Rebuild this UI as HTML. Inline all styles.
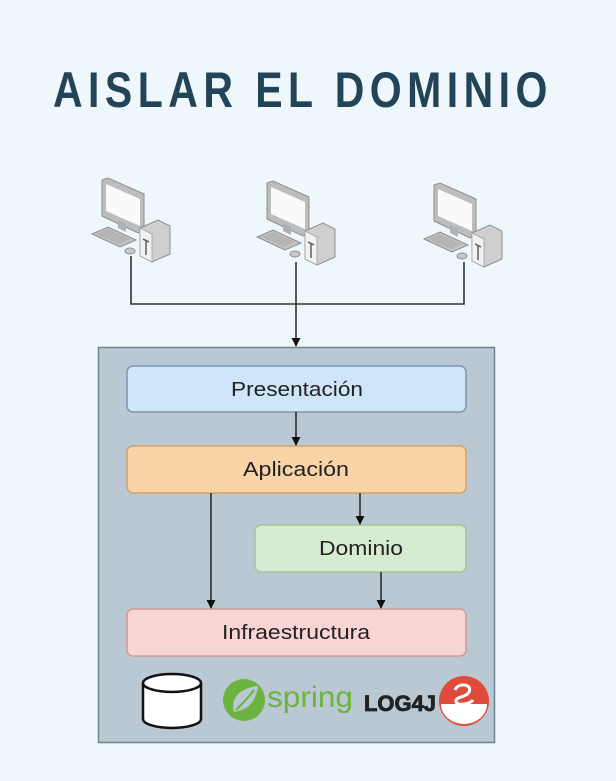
<!DOCTYPE html>
<html><head><meta charset="utf-8"><style>
html,body{margin:0;padding:0;background:#eef7fc;}
svg{display:block}
text{font-family:"Liberation Sans",sans-serif}
</style></head><body>
<svg width="616" height="781" viewBox="0 0 616 781" xmlns="http://www.w3.org/2000/svg">
<defs>
<marker id="ar" viewBox="0 0 10 10" refX="9" refY="5" markerWidth="9" markerHeight="9" orient="auto" markerUnits="userSpaceOnUse">
<path d="M0,0 L10,5 L0,10 z" fill="#111"/></marker>
<g id="pc">
  <polygon points="10,2 16,0 52,16 52,52 46,55 10,38" fill="#bdbdbd" stroke="#8f8f8f" stroke-width="1"/>
  <polygon points="14,6 48,21 48,48 14,33" fill="#fafafa"/>
  <polygon points="26,42 34,46 34,54 26,50" fill="#b0b0b0"/>
  <polygon points="0,56 16,49 44,62 28,69" fill="#c4c4c4" stroke="#8f8f8f" stroke-width="1"/>
  <polygon points="4,56 16,51 38,61 27,66" fill="#b4b4b4"/>
  <ellipse cx="38" cy="73" rx="5" ry="3" fill="#c8c8c8" stroke="#8f8f8f"/>
  <polygon points="48,50 66,42 78,48 78,76 60,84 48,78" fill="#cfcfcf" stroke="#8f8f8f" stroke-width="1"/>
  <polygon points="48,50 60,56 60,84 48,78" fill="#f2f2f2" stroke="#a0a0a0" stroke-width="0.8"/>
  <path d="M51,61 L57,64 M54,62 L54,77" stroke="#666" stroke-width="1.6"/>
</g>
</defs>
<rect width="616" height="781" fill="#eef7fc"/>
<g transform="scale(0.82,1)">
<text x="64.6" y="107" font-size="50" font-weight="bold" fill="#234356" textLength="603" lengthAdjust="spacing">AISLAR EL DOMINIO</text>
</g>

<use href="#pc" x="92" y="178"/>
<use href="#pc" x="257" y="181"/>
<use href="#pc" x="424" y="183"/>

<g stroke="#333" stroke-width="1.6" fill="none">
<path d="M131,256 V304 H464 V262"/>
<path d="M296,262 V346" marker-end="url(#ar)"/>
</g>

<rect x="98.5" y="347.5" width="396" height="395" fill="#b9c8d2" stroke="#6f828f" stroke-width="1.5"/>

<rect x="127" y="366" width="339" height="46" rx="6" fill="#cfe5f9" stroke="#7c95b0" stroke-width="1.5"/>
<text x="231" y="396" font-size="20" fill="#222" textLength="132" lengthAdjust="spacingAndGlyphs">Presentación</text>
<rect x="127" y="446" width="339" height="47" rx="6" fill="#fad4a7" stroke="#d2a26a" stroke-width="1.5"/>
<text x="243" y="476" font-size="20" fill="#222" textLength="106" lengthAdjust="spacingAndGlyphs">Aplicación</text>
<rect x="255" y="525" width="211" height="47" rx="6" fill="#d6ecd1" stroke="#a2c59a" stroke-width="1.5"/>
<text x="319" y="555" font-size="20" fill="#222" textLength="84" lengthAdjust="spacingAndGlyphs">Dominio</text>
<rect x="127" y="609" width="339" height="47" rx="6" fill="#f8d5d3" stroke="#d09a98" stroke-width="1.5"/>
<text x="222" y="639" font-size="20" fill="#222" textLength="148" lengthAdjust="spacingAndGlyphs">Infraestructura</text>

<g stroke="#222" stroke-width="1.5" fill="none">
<path d="M296,412 V445" marker-end="url(#ar)"/>
<path d="M211,493 V608" marker-end="url(#ar)"/>
<path d="M360,493 V524" marker-end="url(#ar)"/>
<path d="M381,572 V608" marker-end="url(#ar)"/>
</g>

<path d="M143,683 V719 A29,9 0 0 0 201,719 V683" fill="#fff" stroke="#111" stroke-width="2.5"/>
<ellipse cx="172" cy="683" rx="29" ry="9" fill="#fff" stroke="#111" stroke-width="2.5"/>

<circle cx="244" cy="700" r="21" fill="#6db33f"/>
<path d="M234,712 C230,698 240,688 258,686 C256,702 248,710 234,712z" fill="#b9c8d2"/>
<path d="M236,710 C242,704 248,698 254,690" stroke="#6db33f" stroke-width="2" fill="none"/>
<text x="267" y="707" font-size="30" fill="#6db33f" textLength="86" lengthAdjust="spacingAndGlyphs">spring</text>

<text x="364" y="711" font-size="22" font-weight="bold" fill="#222" stroke="#222" stroke-width="0.8" textLength="72" lengthAdjust="spacingAndGlyphs">LOG4J</text>
<circle cx="464" cy="701" r="25" fill="#e04a3a"/>
<path d="M441,704 A23,20 0 0 0 487,704 Z" fill="#fff"/>
<path d="M455,690 C458,682 473,684 469,692 C466,698 455,696 456,702 C458,706 470,704 473,700" stroke="#fff" stroke-width="3" fill="none"/>
</svg>
</body></html>
